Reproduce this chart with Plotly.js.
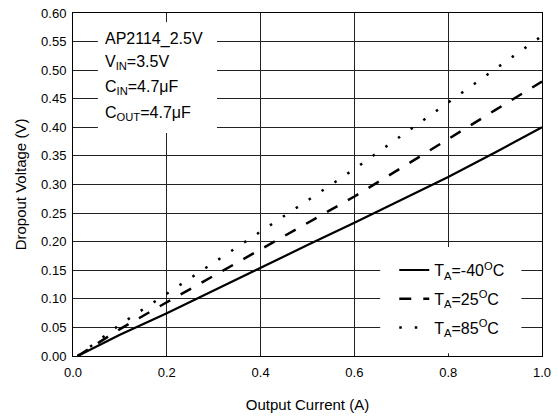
<!DOCTYPE html>
<html>
<head>
<meta charset="utf-8">
<script src="https://cdn.plot.ly/plotly-3.0.1.min.js"></script>
<style>html,body{margin:0;padding:0;background:#fff;}#chart{width:558px;height:418px;}</style>
</head>
<body>
<div id="chart"></div>
<script>
const current = [0.01, 0.1, 0.2, 0.3, 0.4, 0.5, 0.6, 0.7, 0.8, 0.9, 1.0];
const vMinus40 = [0.0, 0.037, 0.075, 0.115, 0.155, 0.194, 0.233, 0.273, 0.313, 0.356, 0.400];
const v25 = [0.0, 0.047, 0.094, 0.140, 0.187, 0.233, 0.279, 0.329, 0.380, 0.430, 0.480];
const v85 = [0.0, 0.055, 0.109, 0.163, 0.217, 0.272, 0.327, 0.385, 0.443, 0.501, 0.560];
const seriesNames = ["T<sub>A</sub>=-40<sup>O</sup>C", "T<sub>A</sub>=25<sup>O</sup>C", "T<sub>A</sub>=85<sup>O</sup>C"];
const xTicks = [0.0, 0.2, 0.4, 0.6, 0.8, 1.0];
const yTicks = [0.00, 0.05, 0.10, 0.15, 0.20, 0.25, 0.30, 0.35, 0.40, 0.45, 0.50, 0.55, 0.60];
const noteLines = ["AP2114_2.5V", "V<sub>IN</sub>=3.5V", "C<sub>IN</sub>=4.7μF", "C<sub>OUT</sub>=4.7μF"];

const font = "Liberation Sans, Arial, sans-serif";
const traces = [
  {x: current, y: vMinus40, name: seriesNames[0], legendgroup: "a", mode: "lines", line: {color: "#000", width: 2.2, dash: "solid"}},
  {x: current, y: v25, name: seriesNames[1], legendgroup: "b", mode: "lines", line: {color: "#000", width: 2.5, dash: "12px,12px"}},
  {x: current, y: v85, name: seriesNames[2], legendgroup: "c", mode: "lines", line: {color: "#000", width: 2.5, dash: "2.5px,13px"}}
];
const notePos = [0.924, 0.857, 0.783, 0.707];
const annotations = noteLines.map((t, i) => ({
  xref: "paper", yref: "paper", x: 0.064, y: notePos[i], xanchor: "left", yanchor: "middle", align: "left",
  text: t, showarrow: false, font: {family: font, size: 16, color: "#000"}
}));
const layout = {
  width: 558, height: 418,
  margin: {l: 73, r: 16, t: 13, b: 62, pad: 0},
  paper_bgcolor: "#fff", plot_bgcolor: "#fff",
  font: {family: font, size: 13, color: "#000"},
  showlegend: true,
  legend: {x: 0.685, y: 0.30, xanchor: "left", yanchor: "top", bgcolor: "rgba(0,0,0,0)", borderwidth: 0,
           font: {family: font, size: 16, color: "#000"}, tracegroupgap: 5},
  xaxis: {range: [0, 1], tickvals: xTicks, tickformat: ".1f", showgrid: true, gridcolor: "#222", gridwidth: 1,
          zeroline: false, showline: true, linecolor: "#000", linewidth: 1, mirror: true, ticks: "",
          ticklabelstandoff: 4,
          tickfont: {family: font, size: 13}, title: {text: "Output Current (A)", font: {family: font, size: 15}, standoff: 20}},
  yaxis: {range: [0, 0.6], tickvals: yTicks, tickformat: ".2f", showgrid: true, gridcolor: "#222", gridwidth: 1,
          zeroline: false, showline: true, linecolor: "#000", linewidth: 1, mirror: true, ticks: "",
          ticklabelstandoff: 3,
          tickfont: {family: font, size: 13}, title: {text: "Dropout Voltage (V)", font: {family: font, size: 15}, standoff: 10}},
  shapes: [
    {type: "rect", xref: "paper", yref: "paper", x0: 0.053, x1: 0.307, y0: 0.650, y1: 0.974, fillcolor: "#fff", line: {width: 0}, layer: "above"},
    {type: "rect", xref: "paper", yref: "paper", x0: 0.655, x1: 0.956, y0: 0.008, y1: 0.318, fillcolor: "#fff", line: {width: 0}, layer: "above"}
  ],
  annotations: annotations
};
Plotly.newPlot("chart", traces, layout, {displayModeBar: false, staticPlot: true});
</script>
</body>
</html>
